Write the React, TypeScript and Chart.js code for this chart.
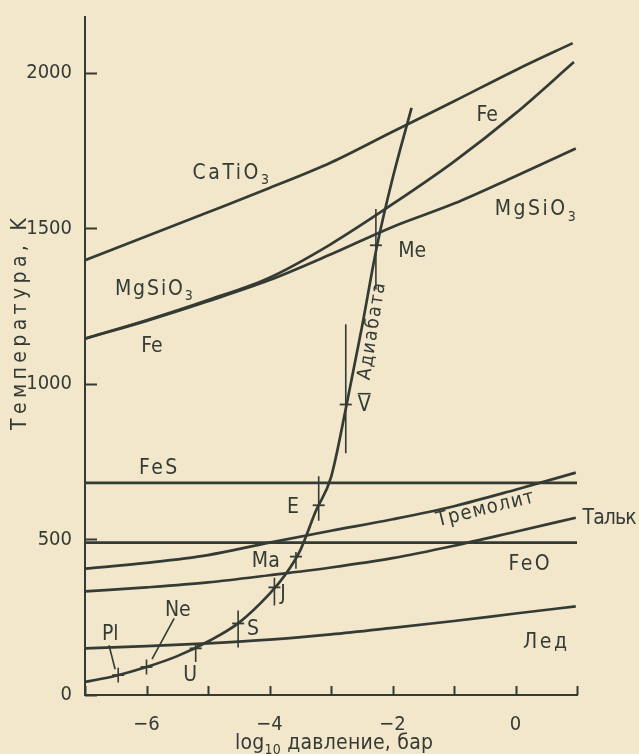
import React, { useEffect, useRef } from "react";
import { Chart, registerables } from "chart.js";
Chart.register(...registerables);

const INK = "#343b35";
const PAPER = "#f2e7cb";
const FONT = "'DejaVu Sans Condensed', 'Liberation Sans Narrow', 'DejaVu Sans', sans-serif";

// axes: log10 pressure (bar) and temperature (K)
const xMin = -7;
const xMax = 1;
const yMin = 0;
const yMax = 2180;
const xTickValues = [-7, -6, -5, -4, -3, -2, -1, 0, 1];
const xTickLabels = ["", "−6", "", "−4", "", "−2", "", "0", ""];
const yTickValues = [0, 500, 1000, 1500, 2000];
const yTickLabels = ["0", "500", "1000", "1500", "2000"];

// condensation curves
const caTiO3LogP = [-7, -6, -5, -4, -3, -2, -1, 0, 0.93];
const caTiO3T = [1398, 1475, 1552, 1630, 1712, 1811, 1909, 2009, 2096];
const feLogP = [-7, -6, -5, -4, -3, -2, -1, 0, 0.95];
const feT = [1146, 1205, 1270, 1342, 1450, 1578, 1715, 1870, 2035];
const mgSiO3LogP = [-7, -6, -5, -4, -3, -2, -1, 0, 0.98];
const mgSiO3T = [1146, 1203, 1266, 1334, 1417, 1505, 1580, 1668, 1757];
const fesLogP = [-7, 1];
const fesT = [682, 682];
const feoLogP = [-7, 1];
const feoT = [490, 490];
const tremoliteLogP = [-7, -6, -5, -4, -3, -2, -1, 0, 0.98];
const tremoliteT = [406, 425, 450, 490, 528, 565, 607, 660, 715];
const talcLogP = [-7, -6, -5, -4, -3, -2, -1, 0, 0.98];
const talcT = [333, 346, 362, 385, 410, 440, 480, 525, 570];
const iceLogP = [-7, -6, -5, -4, -3, -2, -1, 0, 0.98];
const iceT = [150, 157, 166, 178, 195, 216, 238, 262, 285];

// adiabat
const adiabatLogP = [-7, -6.5, -6, -5.5, -5, -4.5, -4, -3.75, -3.5, -3.25, -3, -2.75, -2.5, -2.25, -2, -1.69];
const adiabatT = [42, 62, 90, 125, 172, 232, 325, 385, 465, 590, 700, 930, 1180, 1446, 1660, 1888];

// bodies on the adiabat
const bodyNames = ["Pl", "Ne", "U", "S", "J", "Ma", "E", "V", "Me"];
const bodyLogP = [-6.46, -6.0, -5.2, -4.51, -3.92, -3.57, -3.2, -2.76, -2.27];
const bodyT = [64, 90, 150, 230, 346, 445, 610, 934, 1446];
const bodyTLow = [40, 66, 106, 153, 288, 406, 560, 777, 1304];
const bodyTHigh = [88, 114, 165, 272, 377, 460, 703, 1192, 1563];

// leader lines for Pl and Ne
const plLeaderLogP = [-6.61, -6.51];
const plLeaderT = [160, 83];
const neLeaderLogP = [-5.55, -5.91];
const neLeaderT = [246, 115];

// curve label texts ("^" = overbar)
const labelTexts = [
  "CaTiO_3", "Fe", "MgSiO_3", "MgSiO_3", "Fe", "Me", "Адиабата", "^V", "FeS", "E",
  "Тремолит", "Тальк", "FeO", "Ma", "J", "Ne", "Pl", "S", "U", "Лед",
];
const yTitle = "Температура, K";
const xTitle = "log_10 давление, бар";

// label placement (data coords of centre), size, fitted width, rotation (deg)
const labelLayout = [
  { x: -4.63, y: 1685, s: 21, w: 78, r: 0 },
  { x: -0.46, y: 1870, s: 21, w: 0, r: 0 },
  { x: 0.32, y: 1567, s: 21, w: 84, r: 0 },
  { x: -5.88, y: 1311, s: 21, w: 78, r: 0 },
  { x: -5.91, y: 1128, s: 21, w: 0, r: 0 },
  { x: -1.68, y: 1432, s: 21, w: 0, r: 0 },
  { x: -2.36, y: 1170, s: 19, w: 98, r: -81 },
  { x: -2.46, y: 937, s: 21, w: 0, r: 0 },
  { x: -5.81, y: 735, s: 21, w: 40, r: 0 },
  { x: -3.62, y: 611, s: 21, w: 0, r: 0 },
  { x: -0.5, y: 604, s: 20, w: 100, r: -14 },
  { x: 1.53, y: 575, s: 21, w: 54, r: 0 },
  { x: 0.22, y: 425, s: 21, w: 42, r: 0 },
  { x: -4.06, y: 435, s: 21, w: 0, r: 0 },
  { x: -3.78, y: 329, s: 21, w: 0, r: 0 },
  { x: -5.49, y: 278, s: 21, w: 0, r: 0 },
  { x: -6.59, y: 201, s: 21, w: 0, r: 0 },
  { x: -4.27, y: 217, s: 21, w: 0, r: 0 },
  { x: -5.29, y: 70, s: 21, w: 0, r: 0 },
  { x: 0.48, y: 176, s: 21, w: 45, r: 0 },
];

const pts = (xs: number[], ys: number[]) => xs.map((x, i) => ({ x, y: ys[i] }));

function parseParts(text: string) {
  const parts: { t: string; sub: boolean }[] = [];
  const re = /_(\d+)/g;
  let last = 0;
  let m: RegExpExecArray | null;
  while ((m = re.exec(text))) {
    if (m.index > last) parts.push({ t: text.slice(last, m.index), sub: false });
    parts.push({ t: m[1], sub: true });
    last = m.index + m[0].length;
  }
  if (last < text.length) parts.push({ t: text.slice(last), sub: false });
  return parts;
}

function drawLabel(ctx: CanvasRenderingContext2D, raw: string, cx: number, cy: number, size: number, target: number, rotDeg: number, maxSpacing = 2.5) {
  const overbar = raw.startsWith("^");
  const text = overbar ? raw.slice(1) : raw;
  const parts = parseParts(text);
  const anyCtx = ctx as any;
  anyCtx.letterSpacing = "0px";
  let natural = 0;
  let n = 0;
  for (const p of parts) {
    ctx.font = `${p.sub ? Math.round(size * 0.68) : size}px ${FONT}`;
    natural += ctx.measureText(p.t).width;
    n += p.t.length;
  }
  let spacing = 0;
  if (target > 0 && n > 1) spacing = Math.max(-1, Math.min(maxSpacing, (target - natural) / (n - 1)));
  const total = natural + spacing * (n - 1);
  ctx.save();
  ctx.translate(cx, cy);
  ctx.rotate((rotDeg * Math.PI) / 180);
  ctx.fillStyle = INK;
  ctx.strokeStyle = INK;
  ctx.textBaseline = "alphabetic";
  ctx.textAlign = "left";
  anyCtx.letterSpacing = `${spacing}px`;
  let x = -total / 2;
  const base = size * 0.365;
  for (const p of parts) {
    ctx.font = `${p.sub ? Math.round(size * 0.68) : size}px ${FONT}`;
    ctx.fillText(p.t, x, p.sub ? base + size * 0.25 : base);
    x += ctx.measureText(p.t).width;
  }
  if (overbar) {
    ctx.lineWidth = 1.6;
    ctx.beginPath();
    ctx.moveTo(-total / 2, -size * 0.47);
    ctx.lineTo(total / 2, -size * 0.47);
    ctx.stroke();
  }
  anyCtx.letterSpacing = "0px";
  ctx.restore();
}

const annotPlugin = {
  id: "annot",
  beforeDraw(chart: any) {
    const { ctx, width, height } = chart;
    ctx.save();
    ctx.fillStyle = PAPER;
    ctx.fillRect(0, 0, width, height);
    ctx.restore();
  },
  afterDraw(chart: any) {
    const { ctx } = chart;
    const xs = chart.scales.x;
    const ys = chart.scales.y;
    ctx.save();
    ctx.strokeStyle = INK;
    ctx.lineWidth = 2;
    ctx.beginPath();
    xTickValues.forEach((v) => {
      const px = Math.round(xs.getPixelForValue(v)) + 0.5;
      ctx.moveTo(px, ys.bottom);
      ctx.lineTo(px, ys.bottom - 9);
    });
    yTickValues.forEach((v) => {
      const py = Math.round(ys.getPixelForValue(v)) + 0.5;
      ctx.moveTo(xs.left, py);
      ctx.lineTo(xs.left + 12, py);
    });
    ctx.stroke();
    labelTexts.forEach((t, i) => {
      const L = labelLayout[i];
      drawLabel(ctx, t, xs.getPixelForValue(L.x), ys.getPixelForValue(L.y), L.s, L.w, L.r);
    });
    drawLabel(ctx, yTitle, 18, 324, 21, 212, -90, 4.5);
    drawLabel(ctx, xTitle, 334, 741, 21, 198, 0, 3);
    ctx.restore();
  },
};

export default function App() {
  const ref = useRef<HTMLCanvasElement | null>(null);
  useEffect(() => {
    document.body.style.margin = "0";
    document.body.style.background = PAPER;
    const canvas = ref.current;
    if (!canvas) return;
    const line = (label: string, xs: number[], ys: number[], extra: any = {}) => ({
      label,
      data: pts(xs, ys),
      borderColor: INK,
      borderWidth: 2.7,
      pointRadius: 0,
      fill: false,
      cubicInterpolationMode: "monotone",
      ...extra,
    });
    const segData: any[] = [];
    bodyLogP.forEach((x, i) => {
      segData.push({ x, y: bodyTLow[i] }, { x, y: bodyTHigh[i] }, { x, y: null });
    });
    const leaderData = [...pts(plLeaderLogP, plLeaderT), { x: plLeaderLogP[1], y: null }, ...pts(neLeaderLogP, neLeaderT)];
    const chart = new Chart(canvas, {
      type: "line",
      data: {
        datasets: [
          line("CaTiO3", caTiO3LogP, caTiO3T),
          line("Fe", feLogP, feT),
          line("MgSiO3", mgSiO3LogP, mgSiO3T),
          line("FeS", fesLogP, fesT, { cubicInterpolationMode: "default", tension: 0 }),
          line("FeO", feoLogP, feoT, { cubicInterpolationMode: "default", tension: 0 }),
          line("Тремолит", tremoliteLogP, tremoliteT),
          line("Тальк", talcLogP, talcT),
          line("Лед", iceLogP, iceT),
          line("Адиабата", adiabatLogP, adiabatT),
          {
            label: "bars",
            data: segData,
            borderColor: INK,
            borderWidth: 1.6,
            pointRadius: 0,
            tension: 0,
            spanGaps: false,
          },
          {
            label: "leaders",
            data: leaderData,
            borderColor: INK,
            borderWidth: 1.6,
            pointRadius: 0,
            tension: 0,
            spanGaps: false,
          },
          {
            label: "bodies",
            data: pts(bodyLogP, bodyT),
            showLine: false,
            pointStyle: "line",
            pointRadius: 6,
            pointBorderWidth: 1.8,
            borderColor: INK,
            backgroundColor: INK,
          },
        ],
      },
      options: {
        responsive: false,
        animation: false,
        events: [],
        layout: { padding: { top: 2, right: 62, left: 0, bottom: 0 } },
        plugins: { legend: { display: false }, tooltip: { enabled: false } },
        scales: {
          x: {
            type: "linear",
            min: xMin,
            max: xMax,
            grid: { display: false },
            border: { display: true, color: INK, width: 2 },
            afterFit: (s: any) => {
              s.height = 59;
            },
            afterBuildTicks: (s: any) => {
              s.ticks = xTickValues.map((v) => ({ value: v }));
            },
            ticks: {
              autoSkip: false,
              maxRotation: 0,
              padding: 10,
              color: INK,
              font: { family: FONT, size: 20 },
              callback: (v: any) => {
                const i = xTickValues.indexOf(Number(v));
                return i >= 0 ? xTickLabels[i] : "";
              },
            },
          },
          y: {
            type: "linear",
            min: yMin,
            max: yMax,
            grid: { display: false },
            border: { display: true, color: INK, width: 2 },
            afterFit: (s: any) => {
              s.width = 85;
            },
            afterBuildTicks: (s: any) => {
              s.ticks = yTickValues.map((v) => ({ value: v }));
            },
            ticks: {
              autoSkip: false,
              padding: 5,
              color: INK,
              font: { family: FONT, size: 20 },
              callback: (v: any) => {
                const i = yTickValues.indexOf(Number(v));
                return i >= 0 ? yTickLabels[i] : "";
              },
            },
          },
        },
      },
      plugins: [annotPlugin],
    } as any);
    return () => chart.destroy();
  }, []);
  return (
    <div style={{ width: 639, height: 754 }}>
      <canvas ref={ref} width={639} height={754} style={{ display: "block" }} />
    </div>
  );
}
